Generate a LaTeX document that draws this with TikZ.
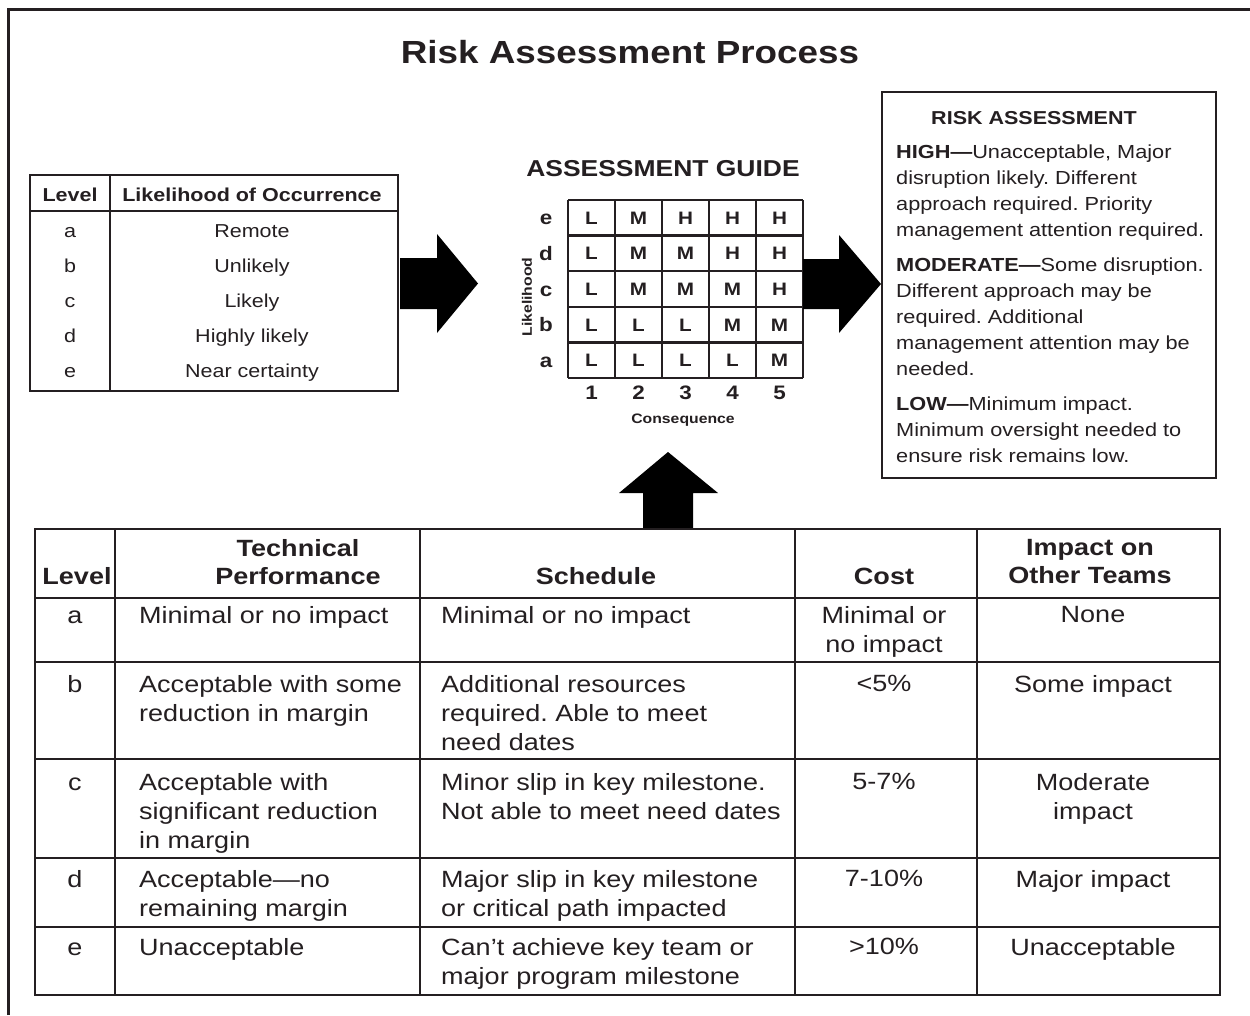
\documentclass[tikz,border=0pt]{standalone}
\usepackage{fontspec}
\setmainfont{Liberation Sans}[FakeStretch=1.15]
\frenchspacing
\newcommand{\fsz}[2]{\fontsize{#1}{#2}\selectfont}
\definecolor{ink}{rgb}{0.14,0.12,0.13}
\tikzset{
  frameline/.style={line width=3pt, draw=ink},
  rule/.style={line width=2pt, draw=ink},
  gridline/.style={line width=2.4pt, draw=ink},
  blockarrow/.style={fill=black, draw=none},
  ttl/.style={font=\fsz{32}{38}\bfseries, text=ink, inner sep=0, text height=22.9pt, text depth=0pt},
  lthead/.style={font=\fsz{18.7}{22}\bfseries, text=ink, inner sep=0, text height=13.4pt, text depth=0pt},
  ltcell/.style={font=\fsz{18.7}{22}, text=ink, inner sep=0, text height=13.4pt, text depth=0pt},
  gtitle/.style={font=\fsz{23}{28}\bfseries, text=ink, inner sep=0, text height=16.5pt, text depth=0pt},
  gcell/.style={font=\fsz{18}{21}\bfseries, text=ink, inner sep=0, text height=12.9pt, text depth=0pt},
  glabel/.style={font=\fsz{19.5}{23}\bfseries, text=ink, inner sep=0, text height=14pt, text depth=0pt},
  gaxis/.style={font=\fsz{13.7}{16}\bfseries, text=ink, inner sep=0, text height=9.8pt, text depth=0pt},
  rhead/.style={font=\fsz{18.7}{22}\bfseries, text=ink, inner sep=0, text height=13.4pt, text depth=0pt},
  rbody/.style={font=\fsz{18.9}{26}, text=ink, inner sep=0, align=left, anchor=north west},
  bt/.style={font=\fsz{23.5}{29}, text=ink, inner sep=0},
  btl/.style={bt, align=left, anchor=north west},
  btc/.style={bt, align=center, anchor=north},
  btone/.style={bt, text height=16.8pt, text depth=0pt},
  bth/.style={font=\fsz{23.5}{28}\bfseries, text=ink, inner sep=0, align=center, anchor=north},
  bthone/.style={font=\fsz{23.5}{28}\bfseries, text=ink, inner sep=0, text height=16.8pt, text depth=0pt},
}
\begin{document}
\begin{tikzpicture}[x=1pt,y=-1pt]
\useasboundingbox (0,0) rectangle (1250,1015);
\fill[white] (0,0) rectangle (1250,1015);
% outer frame (top and left edges)
\draw[frameline] (8,1015) -- (8,9.5) -- (1250,9.5);
\node[ttl] (title) at (630,52) {Risk Assessment Process};

% ---------- left table: likelihood ----------
\draw[rule] (30,175) rectangle (398,391);
\draw[rule] (30,211) -- (398,211);
\draw[rule] (110,175) -- (110,391);
\node[lthead] (lh1) at (70,195) {Level};
\node[lthead] (lh2) at (252,195) {Likelihood of Occurrence};
\foreach \l/\t/\y in {a/Remote/231, b/Unlikely/266, c/Likely/301, d/Highly likely/336, e/Near certainty/371} {
  \node[ltcell] (ll\l) at (70,\y) {\l};
  \node[ltcell] (lt\l) at (252,\y) {\t};
}

% ---------- assessment guide ----------
\node[gtitle] (gtitle) at (663,168) {ASSESSMENT GUIDE};
\foreach \i in {0,...,5} \draw[gridline] (568+47*\i,200) -- (568+47*\i,378);
\foreach \j in {0,...,5} \draw[gridline] (568,200+35.6*\j) -- (803,200+35.6*\j);
\foreach \r/\vals [count=\j from 0] in {e/{L,M,H,H,H}, d/{L,M,M,H,H}, c/{L,M,M,M,H}, b/{L,L,L,M,M}, a/{L,L,L,L,M}} {
  \node[glabel] (row\r) at (546,217.8+35.6*\j) {\r};
  \foreach \v [count=\i from 0] in \vals {
    \node[gcell] (g\r\i) at (591.5+47*\i,217.8+35.6*\j) {\v};
  }
}
\foreach \n in {1,...,5} \node[glabel] (col\n) at (544.5+47*\n,392) {\n};
\node[gaxis] (conseq) at (683,419) {Consequence};
\node[gaxis, rotate=90] (likel) at (527,297) {Likelihood};

% ---------- risk assessment box ----------
\draw[rule] (882,92) rectangle (1216,478);
\node[rhead] (rhead) at (1034,118) {RISK ASSESSMENT};
\node[rbody] (rtext) at (896,145) {\textbf{HIGH—}Unacceptable, Major\\disruption likely. Different\\approach required. Priority\\management attention required.\\[9pt]\textbf{MODERATE—}Some disruption.\\Different approach may be\\required. Additional\\management attention may be\\needed.\\[9pt]\textbf{LOW—}Minimum impact.\\Minimum oversight needed to\\ensure risk remains low.};

% ---------- block arrows ----------
\fill[blockarrow] (400,258) -- (437,258) -- (437,234) -- (478,283.5) -- (437,333) -- (437,309) -- (400,309) -- cycle;
\fill[blockarrow] (803,259) -- (839,259) -- (839,235) -- (881,284) -- (839,333) -- (839,309) -- (803,309) -- cycle;
\fill[blockarrow] (643,528) -- (643,493) -- (619,493) -- (668,452) -- (718,493) -- (693,493) -- (693,528) -- cycle;

% ---------- bottom table: consequence ----------
\draw[rule] (35,529) rectangle (1220,995);
\foreach \y in {598,662,759,858,927} \draw[rule] (35,\y) -- (1220,\y);
\foreach \x in {115,420,795,977} \draw[rule] (\x,529) -- (\x,995);
\node[bthone] (hlev) at (77,576) {Level};
\node[bth] (htech) at (298,539.3) {Technical\\Performance};
\node[bthone] (hsch) at (596,576) {Schedule};
\node[bthone] (hcost) at (884,576) {Cost};
\node[bth] (himp) at (1090,539.3) {Impact on\\Other Teams};

\node[btone] (la) at (75,615) {a};
\node[btl] (ta) at (139,606.3) {Minimal or no impact};
\node[btl] (sa) at (441,606.3) {Minimal or no impact};
\node[btc] (ca) at (884,606.3) {Minimal or\\no impact};
\node[btc] (ia) at (1093,606.3) {None};

\node[btone] (lb) at (75,684) {b};
\node[btl] (tb) at (139,675.3) {Acceptable with some\\reduction in margin};
\node[btl] (sb) at (441,675.3) {Additional resources\\required. Able to meet\\need dates};
\node[btc] (cb) at (884,675.3) {<5\%};
\node[btc] (ib) at (1093,675.3) {Some impact};

\node[btone] (lc) at (75,782) {c};
\node[btl] (tc) at (139,773.3) {Acceptable with\\significant reduction\\in margin};
\node[btl] (sc) at (441,773.3) {Minor slip in key milestone.\\Not able to meet need dates};
\node[btc] (cc) at (884,773.3) {5-7\%};
\node[btc] (ic) at (1093,773.3) {Moderate\\impact};

\node[btone] (ld) at (75,879) {d};
\node[btl] (td) at (139,870.3) {Acceptable—no\\remaining margin};
\node[btl] (sd) at (441,870.3) {Major slip in key milestone\\or critical path impacted};
\node[btc] (cd) at (884,870.3) {7-10\%};
\node[btc] (id) at (1093,870.3) {Major impact};

\node[btone] (le) at (75,947) {e};
\node[btl] (te) at (139,938.3) {Unacceptable};
\node[btl] (se) at (441,938.3) {Can’t achieve key team or\\major program milestone};
\node[btc] (ce) at (884,938.3) {>10\%};
\node[btc] (ie) at (1093,938.3) {Unacceptable};
\end{tikzpicture}
\end{document}
